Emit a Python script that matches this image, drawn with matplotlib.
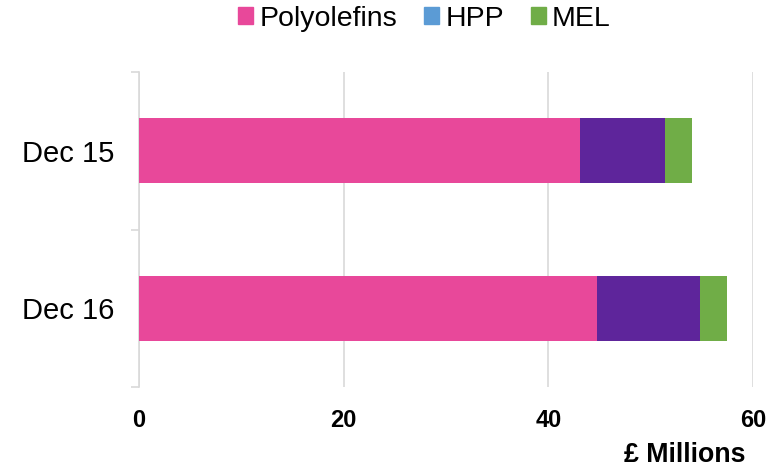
import numpy as np
import matplotlib.pyplot as plt
from matplotlib.patches import Patch

plt.rcParams['font.family'] = ['Liberation Sans', 'DejaVu Sans']

# --- DATA (GBP millions) ---
periods = ['Dec 15', 'Dec 16']
polyolefins = [43.1, 44.8]
hpp = [8.3, 10.0]
mel = [2.6, 2.7]
x_ticks = [0, 20, 40, 60]

PINK = '#E8489A'
PURPLE = '#5E259B'
BLUE = '#5B9BD5'
GREEN = '#70AD47'
GRID = '#D9D9D9'

fig = plt.figure(figsize=(7.76, 4.68), dpi=100)
ax = fig.add_axes([139 / 776, 1 - 387 / 468, (753 - 139) / 776, (387 - 72) / 468])

y = np.arange(len(periods))
h = 0.41
ax.barh(y, polyolefins, height=h, color=PINK, zorder=3)
ax.barh(y, hpp, left=polyolefins, height=h, color=PURPLE, zorder=3)
ax.barh(y, mel, left=np.add(polyolefins, hpp), height=h, color=GREEN, zorder=3)

ax.set_xlim(0, 60)
ax.set_ylim(len(periods) - 0.5, -0.5)
ax.set_xticks(x_ticks)
ax.set_xticklabels([str(t) for t in x_ticks], fontsize=17, fontweight='bold')
ax.tick_params(axis='x', length=0, pad=16)
ax.grid(axis='x', color=GRID, linewidth=1.2, zorder=0)

ax.set_yticks(y)
ax.set_yticklabels(periods, fontsize=21)
ax.tick_params(axis='y', which='major', length=0, pad=18)
ax.set_yticks(np.arange(-0.5, len(periods)), minor=True)
ax.tick_params(axis='y', which='minor', length=6, color=GRID, width=1.2)

for side in ['top', 'right', 'bottom']:
    ax.spines[side].set_visible(False)
ax.spines['left'].set_color(GRID)
ax.spines['left'].set_linewidth(1.2)

ax.text((745 - 139) / (753 - 139), -0.215, '£ Millions', transform=ax.transAxes,
        ha='right', va='center', fontsize=19.3, fontweight='bold')

# legend swatch for HPP is blue, as in the published figure
handles = [Patch(color=PINK, label='Polyolefins'),
           Patch(color=BLUE, label='HPP'),
           Patch(color=GREEN, label='MEL')]
fig.legend(handles=handles, loc='center', bbox_to_anchor=(0.547, 0.96), ncol=3,
           frameon=False, fontsize=20.5, handlelength=0.52, handleheight=0.52,
           handletextpad=0.22, columnspacing=0.95)

fig.savefig('out.png', dpi=100)
